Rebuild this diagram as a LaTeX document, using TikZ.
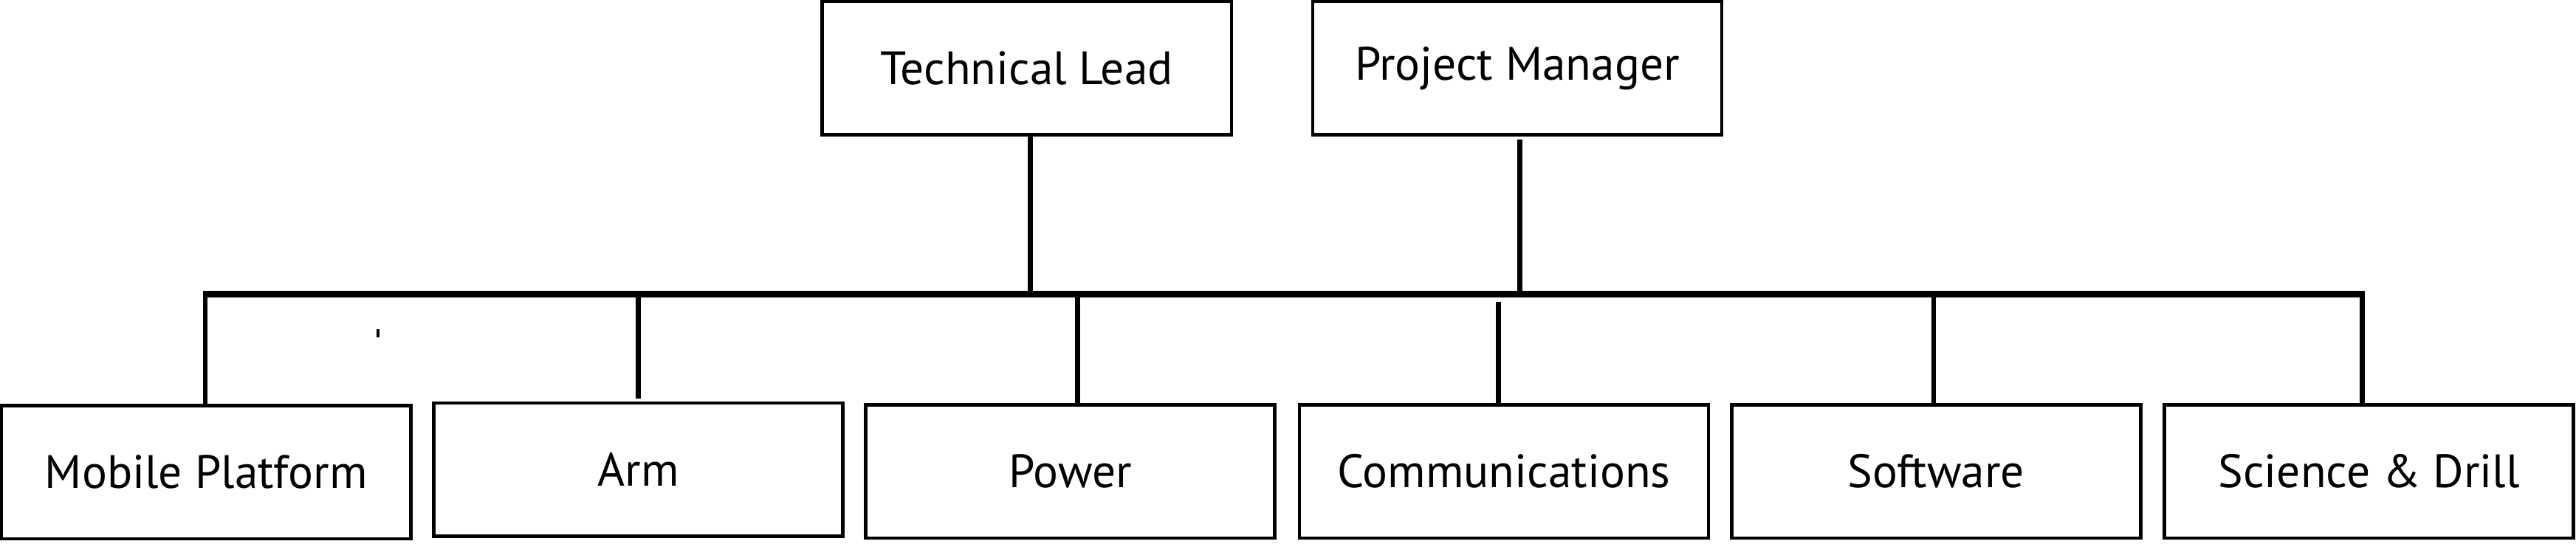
\documentclass[tikz,border=0pt]{standalone}
\usepackage{fontspec}
\setmainfont{PT Sans}

\begin{document}
\begin{tikzpicture}
[-,x=1pt,y=-1pt,%
  every node/.style={shape=rectangle,draw,line width=2pt,minimum width=249pt,%
    minimum height=81pt,inner sep=0pt,font=\fontsize{28.5}{34}\selectfont},%
  link/.style={line width=3pt},%
  bus/.style={line width=4pt}]
\useasboundingbox (0,0) rectangle (1568,331);
%% leads
\node (lead) at (625,41.5) {Technical Lead};
\node (pm) at (923.5,41.5) {Project Manager};
%% teams
\node (mobile) at (125.5,287.5) {Mobile Platform};
\node (arm) at (388.5,286) {Arm};
\node (power) at (651.5,287) {Power};
\node (comms) at (915.5,287) {Communications};
\node (soft) at (1178.5,287) {Software};
\node (sci) at (1442,287) {Science \& Drill};
%% bus
\coordinate (busL) at (123.5,179);
\coordinate (busR) at (1439.5,179);
\draw[bus] (busL) -- (busR);
\draw[link] ([xshift=2pt]lead.south) -- ([xshift=2pt]lead.south |- busL);
\draw[link] ([xshift=1.5pt,yshift=-2pt]pm.south) -- ([xshift=1.5pt]pm.south |- busL);
\draw[link] (mobile.north -| busL) ++(1.5,0) -- ++(0,-68);
\draw[link] ([yshift=2pt]arm.north) -- (arm.north |- busL);
\draw[link] ([xshift=4.5pt]power.north) -- ([xshift=4.5pt]power.north |- busL);
\draw[link] ([xshift=-3.5pt]comms.north) -- ([xshift=-3.5pt,yshift=-5pt]comms.north |- busL);
\draw[link] ([xshift=-1.5pt]soft.north) -- ([xshift=-1.5pt]soft.north |- busL);
\draw[link] (sci.north -| busR) ++(-1.5,0) -- ++(0,-67);
%% stray mark
\fill (229,200.5) rectangle (231,205.5);
\end{tikzpicture}
\end{document}
